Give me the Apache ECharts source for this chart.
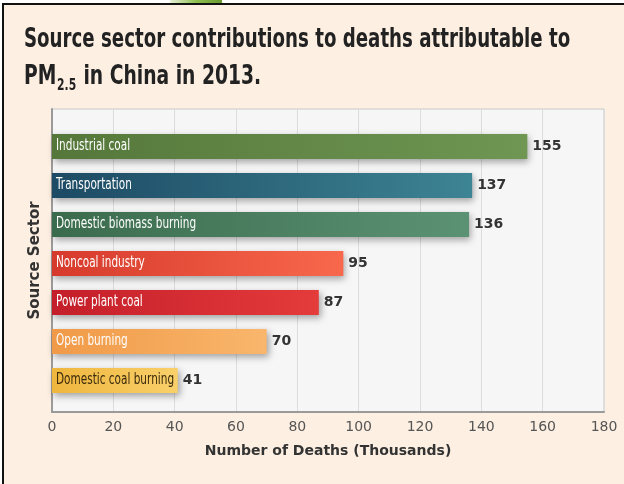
<!DOCTYPE html>
<html>
<head>
<meta charset="utf-8">
<script src="https://cdn.jsdelivr.net/npm/echarts@6/dist/echarts.min.js"></script>
<style>
html,body{margin:0;padding:0;background:#fff;}
#chart{width:624px;height:484px;}
</style>
</head>
<body>
<div id="chart"></div>
<script>
// ---- data ----
var categories = ['Industrial coal', 'Transportation', 'Domestic biomass burning', 'Noncoal industry', 'Power plant coal', 'Open burning', 'Domestic coal burning'];
var deaths = [155, 137, 136, 95, 87, 70, 41];
var xTicks = [0, 20, 40, 60, 80, 100, 120, 140, 160, 180];

// ---- styles ----
var barColors = [
  ['#55783a', '#6f9653'],
  ['#1d4a64', '#3d8494'],
  ['#3a6b4c', '#5c9274'],
  ['#d63a2c', '#f8684c'],
  ['#c41e2a', '#e43b3b'],
  ['#f09a48', '#f9b66c'],
  ['#efb63e', '#f9d06a']
];
var nameColors = ['#fff', '#fff', '#fff', '#fff', '#fff', '#fff', '#3a2a0c'];
var sans = '"DejaVu Sans", sans-serif';

var chart = echarts.init(document.getElementById('chart'));
var barData = deaths.map(function (v, i) {
  return {
    value: v,
    itemStyle: {
      color: new echarts.graphic.LinearGradient(0, 0, 1, 0, [
        {offset: 0, color: barColors[i][0]},
        {offset: 1, color: barColors[i][1]}
      ]),
      shadowColor: 'rgba(0,0,0,0.35)',
      shadowBlur: 7,
      shadowOffsetX: 2,
      shadowOffsetY: 3
    }
  };
});
var nameData = categories.map(function (c, i) { return [0, i]; });

chart.setOption({
  backgroundColor: '#fdefe1',
  animation: false,
  graphic: [
    {type: 'rect', shape: {x: 0, y: 0, width: 624, height: 3}, style: {fill: '#fff'}, z: 100},
    {type: 'rect', shape: {x: 0, y: 0, width: 2, height: 484}, style: {fill: '#fff'}, z: 100},
    {type: 'rect', shape: {x: 170, y: 0, width: 52, height: 3}, style: {fill: new echarts.graphic.LinearGradient(0, 0, 1, 0, [{offset: 0, color: '#e8f0d8'}, {offset: 0.5, color: '#8fbf50'}, {offset: 1, color: '#6a9a30'}])}, z: 101},
    {type: 'rect', shape: {x: 2, y: 3, width: 622, height: 2}, style: {fill: '#111'}, z: 102},
    {type: 'rect', shape: {x: 2, y: 3, width: 2, height: 481}, style: {fill: '#111'}, z: 102},
    {
      type: 'text', x: 24, y: 27, scaleX: 0.70, originX: 0, originY: 0, z: 50,
      style: {
        text: 'Source sector contributions to deaths attributable to',
        font: 'bold 26px ' + sans,
        fill: '#222'
      }
    },
    {
      type: 'text', x: 24, y: 61, scaleX: 0.72, originX: 0, originY: 0, z: 50,
      style: {
        text: '{b|PM}{s|2.5}{b| in China in 2013.}',
        rich: {
          b: {font: 'bold 26px ' + sans, fill: '#222', height: 32, verticalAlign: 'top'},
          s: {font: 'bold 15px ' + sans, fill: '#222', height: 32, verticalAlign: 'bottom', padding: [0, 1, -9, 1]}
        }
      }
    }
  ],
  grid: [
    {left: 52, right: 20, top: 109, bottom: 72, show: true, backgroundColor: '#f6f6f6', borderColor: '#c8c8c8', borderWidth: 1},
    {left: 52, right: 20, top: 127, bottom: 84}
  ],
  xAxis: [
    {
      type: 'value', gridIndex: 0, min: 0, max: 180, interval: 20,
      name: 'Number of Deaths (Thousands)', nameLocation: 'middle', nameGap: 32,
      nameTextStyle: {fontFamily: 'DejaVu Sans', fontWeight: 'bold', fontSize: 14, color: '#333'},
      axisLine: {show: true, lineStyle: {color: '#9a9a9a', width: 2}},
      axisTick: {show: false},
      axisLabel: {color: '#555', fontFamily: 'DejaVu Sans', fontSize: 14, margin: 8},
      splitLine: {show: true, lineStyle: {color: '#dcdcdc', width: 1}}
    },
    {type: 'value', gridIndex: 1, min: 0, max: 180, show: false}
  ],
  yAxis: [
    {
      type: 'value', gridIndex: 0, min: 0, max: 1,
      name: 'Source Sector', nameLocation: 'middle', nameGap: 9, nameRotate: 90,
      nameTextStyle: {fontFamily: 'DejaVu Sans', fontWeight: 'bold', fontSize: 15, color: '#333'},
      axisLine: {show: true, lineStyle: {color: '#9a9a9a', width: 2}},
      axisTick: {show: false}, axisLabel: {show: false}, splitLine: {show: false}
    },
    {
      type: 'category', gridIndex: 1, data: categories, inverse: true,
      axisLine: {show: false}, axisTick: {show: false}, axisLabel: {show: false}
    }
  ],
  series: [
    {
      type: 'bar', xAxisIndex: 1, yAxisIndex: 1, data: barData, barWidth: 25,
      label: {show: true, position: 'right', distance: 5, fontFamily: 'DejaVu Sans', fontWeight: 'bold', fontSize: 14, color: '#333'}
    },
    {
      type: 'custom', xAxisIndex: 1, yAxisIndex: 1, data: nameData, z: 5, silent: true,
      renderItem: function (params, api) {
        var p = api.coord([api.value(0), api.value(1)]);
        return {
          type: 'text', x: p[0] + 4, y: p[1], scaleX: 0.70, originX: 0, originY: 0,
          style: {
            text: categories[params.dataIndex],
            font: '15px ' + sans,
            fill: nameColors[params.dataIndex],
            verticalAlign: 'middle', align: 'left'
          }
        };
      }
    }
  ]
});
</script>
</body>
</html>
